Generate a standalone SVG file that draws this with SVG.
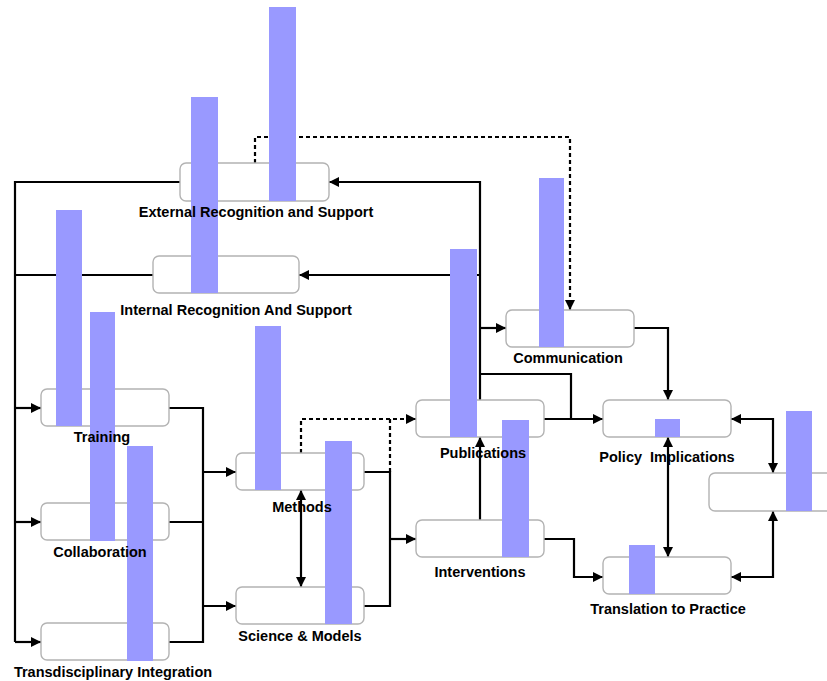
<svg xmlns="http://www.w3.org/2000/svg" width="827" height="681" viewBox="0 0 827 681">
  <style>
    .box { fill: #ffffff; stroke: #b3b3b3; stroke-width: 1.4; }
    .bar { fill: #9999ff; }
    .wire { fill: none; stroke: #000000; stroke-width: 2.2; }
    .dash { stroke-dasharray: 4 3; }
    .end { marker-end: url(#arrow); }
    .both { marker-start: url(#arrow); marker-end: url(#arrow); }
    .label { font-family: "Liberation Sans", Arial, sans-serif; font-size: 14.5px; font-weight: bold; fill: #000000; text-anchor: middle; }
  </style>
  <defs>
    <marker id="arrow" viewBox="0 0 10 10" refX="10" refY="5" markerWidth="10" markerHeight="10" markerUnits="userSpaceOnUse" orient="auto-start-reverse">
      <path d="M0,0 L10,5 L0,10 z" fill="#000000"/>
    </marker>
  </defs>

  <rect width="827" height="681" fill="#ffffff"/>

  <!-- connectors -->
  <g id="connectors">
    <!-- left feedback trunk -->
    <path class="wire" d="M181,182 H15 V642"/>
    <path class="wire" d="M154,275 H15"/>
    <path class="wire end" d="M15,408 H41"/>
    <path class="wire end" d="M15,522 H41"/>
    <path class="wire end" d="M15,642 H41"/>
    <!-- inputs into methods / science -->
    <path class="wire" d="M169,408 H203 V642 H169"/>
    <path class="wire" d="M169,522 H203"/>
    <path class="wire end" d="M203,472 H236"/>
    <path class="wire end" d="M203,606 H236"/>
    <path class="wire both" d="M301,490 V587"/>
    <!-- methods / science outputs -->
    <path class="wire dash end" d="M301,453 V419 H416"/>
    <path class="wire dash" d="M390,472 V419"/>
    <path class="wire" d="M364,472 H390 V606 H364"/>
    <path class="wire end" d="M390,539 H416"/>
    <path class="wire end" d="M480,520 V437"/>
    <!-- publications hub -->
    <path class="wire end" d="M480,400 V182 H329"/>
    <path class="wire end" d="M480,275 H299"/>
    <path class="wire end" d="M480,328 H506"/>
    <path class="wire" d="M480,374 H571 V419"/>
    <path class="wire end" d="M544,419 H603"/>
    <path class="wire end" d="M634,328 H668 V400"/>
    <path class="wire dash end" d="M255,163 V137 H570 V310"/>
    <!-- interventions and outcomes -->
    <path class="wire end" d="M544,539 H574 V577 H603"/>
    <path class="wire both" d="M668,437 V557"/>
    <path class="wire both" d="M731,419 H773 V473"/>
    <path class="wire both" d="M731,577 H773 V511"/>
  </g>

  <!-- nodes: box with its indicator bar -->
  <g id="node-external">
    <rect class="box" x="180" y="163" width="149" height="38" rx="6"/>
    <rect class="bar" x="269" y="7" width="27" height="194"/>
  </g>
  <g id="node-internal">
    <rect class="box" x="153" y="256" width="146" height="37" rx="6"/>
    <rect class="bar" x="191" y="97" width="27" height="196"/>
  </g>
  <g id="node-training">
    <rect class="box" x="41" y="389" width="128" height="37" rx="6"/>
    <rect class="bar" x="56" y="210" width="26" height="216"/>
  </g>
  <g id="node-collaboration">
    <rect class="box" x="41" y="503" width="128" height="37" rx="6"/>
    <rect class="bar" x="90" y="312" width="25" height="229"/>
  </g>
  <g id="node-transdisciplinary">
    <rect class="box" x="41" y="623" width="128" height="37" rx="6"/>
    <rect class="bar" x="127" y="446" width="26" height="215"/>
  </g>
  <g id="node-methods">
    <rect class="box" x="236" y="453" width="128" height="37" rx="6"/>
    <rect class="bar" x="255" y="326" width="26" height="164"/>
  </g>
  <g id="node-science">
    <rect class="box" x="236" y="587" width="128" height="37" rx="6"/>
    <rect class="bar" x="325" y="441" width="27" height="183"/>
  </g>
  <g id="node-publications">
    <rect class="box" x="416" y="400" width="128" height="37" rx="6"/>
    <rect class="bar" x="450" y="249" width="27" height="188"/>
  </g>
  <g id="node-interventions">
    <rect class="box" x="416" y="520" width="128" height="37" rx="6"/>
    <rect class="bar" x="502" y="420" width="27" height="137"/>
  </g>
  <g id="node-communication">
    <rect class="box" x="506" y="310" width="128" height="37" rx="6"/>
    <rect class="bar" x="539" y="178" width="25" height="169"/>
  </g>
  <g id="node-policy">
    <rect class="box" x="603" y="400" width="128" height="37" rx="6"/>
    <rect class="bar" x="655" y="419" width="25" height="18"/>
  </g>
  <g id="node-translation">
    <rect class="box" x="603" y="557" width="128" height="37" rx="6"/>
    <rect class="bar" x="629" y="545" width="26" height="49"/>
  </g>
  <g id="node-outcome">
    <rect class="box" x="709" y="473" width="130" height="38" rx="6"/>
    <rect class="bar" x="786" y="411" width="26" height="100"/>
  </g>

  <!-- node labels -->
  <g id="labels">
    <text class="label" x="256" y="217">External Recognition and Support</text>
    <text class="label" x="236" y="315">Internal Recognition And Support</text>
    <text class="label" x="102" y="442">Training</text>
    <text class="label" x="100" y="557">Collaboration</text>
    <text class="label" x="113" y="677">Transdisciplinary Integration</text>
    <text class="label" x="302" y="512">Methods</text>
    <text class="label" x="300" y="641">Science &amp; Models</text>
    <text class="label" x="483" y="458">Publications</text>
    <text class="label" x="480" y="577">Interventions</text>
    <text class="label" x="568" y="363">Communication</text>
    <text class="label" x="667" y="462" xml:space="preserve">Policy  Implications</text>
    <text class="label" x="668" y="614">Translation to Practice</text>
  </g>
</svg>
